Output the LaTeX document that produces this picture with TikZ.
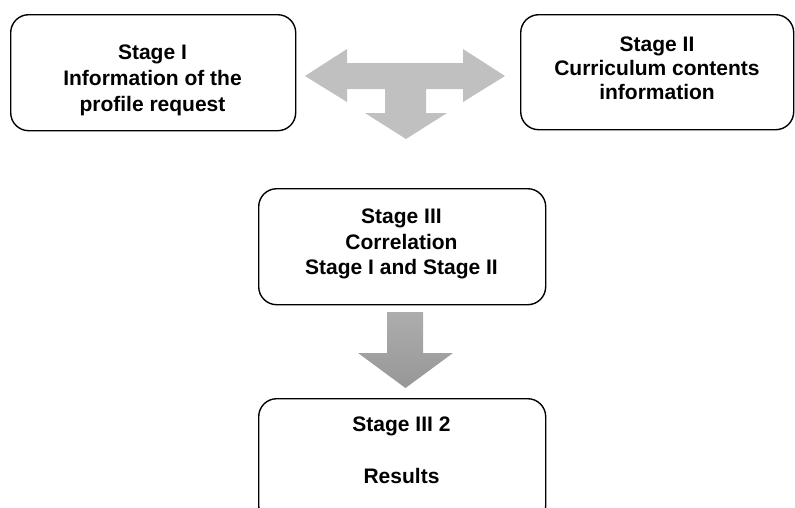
\documentclass[tikz,border=0pt]{standalone}
\usepackage{fontspec}
\setmainfont{Liberation Sans}
\definecolor{arrowgray}{HTML}{C0C0C0}
\definecolor{shadetop}{HTML}{ADADAD}
\definecolor{shadebottom}{HTML}{979797}
\begin{document}
\begin{tikzpicture}[x=1pt,y=1pt,
  stagebox/.style={draw=black, line width=1.4pt, rounded corners=18pt, fill=white, anchor=north west},
  stagetext/.style={font=\fontsize{21}{25}\selectfont\bfseries, align=center, inner sep=0pt},
  flatarrow/.style={fill=arrowgray, draw=none},
  shadedarrow/.style={top color=shadetop, bottom color=shadebottom, draw=none},
]
\useasboundingbox (0,0) rectangle (795,-507);
\clip (0,0) rectangle (795,-507);

% stage boxes
\node[stagebox, minimum width=285pt, minimum height=116pt] (s1) at (10,-14) {};
\node[stagebox, minimum width=273pt, minimum height=115pt] (s2) at (520,-14) {};
\node[stagebox, minimum width=287pt, minimum height=116pt] (s3) at (258,-188) {};
\node[stagebox, minimum width=287pt, minimum height=125pt] (s4) at (258,-398) {};

% box labels
\node[stagetext, font=\fontsize{21}{26}\selectfont\bfseries] (t1) at (152.5,-80) {Stage I\\Information of the\\profile request};
\node[stagetext, font=\fontsize{21}{24}\selectfont\bfseries] (t2) at (657,-68) {Stage II\\Curriculum contents\\information};
\node[stagetext, font=\fontsize{21}{25.5}\selectfont\bfseries] (t3) at (401.5,-244) {Stage III\\Correlation\\Stage I and Stage II};
\node[stagetext, font=\fontsize{21}{26}\selectfont\bfseries] (t4) at (401.5,-450) {Stage III 2\\ \\Results};

% three-way block arrow between stage I, stage II and stage III
\fill[flatarrow] (305,-76) -- (347,-49) -- (347,-63) -- (463,-63) -- (463,-49)
  -- (505,-76) -- (463,-102) -- (463,-89) -- (426,-89) -- (426,-113)
  -- (447,-113) -- (406,-139) -- (365,-113) -- (385,-113) -- (385,-89)
  -- (347,-89) -- (347,-102) -- cycle;

% down block arrow from stage III to the results
\path[shadedarrow] (387,-312) -- (423,-312) -- (423,-353) -- (453,-353)
  -- (405.5,-388) -- (358,-353) -- (387,-353) -- cycle;
\end{tikzpicture}
\end{document}
